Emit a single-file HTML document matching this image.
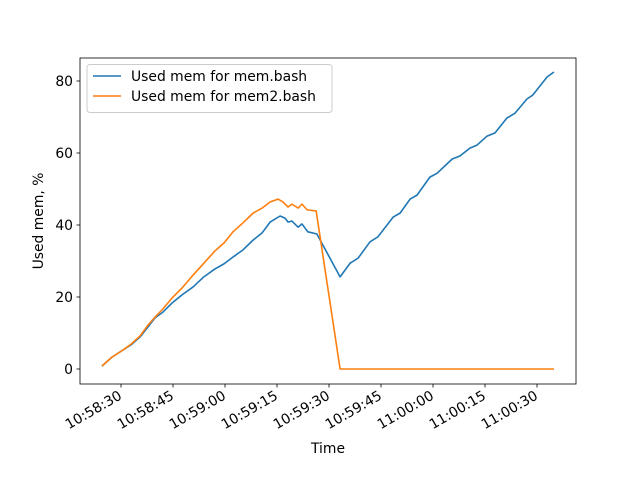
<!DOCTYPE html>
<html><head><meta charset="utf-8"><style>body{margin:0;background:#fff}svg{font-family:"DejaVu Sans","Liberation Sans",sans-serif}</style></head>
<body>
<svg id="c" width="640" height="480"></svg>
<script>
// seconds since 10:58:30
const blueT=[-5.5,-2.6,0.6,2.9,5.5,7.8,9.8,12.1,14.7,17.6,20.8,23.9,27.1,29.7,32.3,35.2,38.1,40.7,43.0,45.9,47.3,48.2,49.3,51.1,52.2,53.9,56.5,63.2,66.1,68.4,71.8,74.1,78.5,80.5,83.4,85.4,89.1,91.2,95.5,97.8,100.7,102.7,105.6,107.9,111.3,113.7,117.1,118.8,122.9,124.9];
const blueV=[0.8,3.3,5.3,6.7,8.9,11.7,14.2,15.8,18.3,20.6,22.8,25.6,27.8,29.2,31.1,33.1,35.8,37.8,40.8,42.5,41.9,40.8,41.1,39.4,40.3,38.1,37.5,25.6,29.4,30.8,35.3,36.7,42.2,43.3,47.2,48.3,53.3,54.4,58.3,59.2,61.4,62.2,64.7,65.6,69.7,71.1,75.0,76.1,81.1,82.5];
const orangeT=[-5.5,-2.6,0.6,2.9,5.5,7.8,9.8,12.1,14.7,17.6,20.8,23.9,27.1,29.7,32.3,35.2,38.1,40.7,43.0,45.3,46.7,48.2,49.3,51.1,52.2,53.7,56.3,63.2,124.9];
const orangeV=[0.8,3.3,5.3,6.9,9.2,12.2,14.4,16.7,19.7,22.5,26.1,29.4,32.8,35.0,38.1,40.6,43.3,44.7,46.4,47.2,46.4,45.0,45.8,44.7,45.8,44.2,43.9,0,0];
const xTicks=[0,15,30,45,60,75,90,105,120];
const xLabels=["10:58:30","10:58:45","10:59:00","10:59:15","10:59:30","10:59:45","11:00:00","11:00:15","11:00:30"];
const yTicks=[0,20,40,60,80];
const X=t=>121+t*52/15, Y=v=>369-3.6*v;
const svg=document.getElementById('c');const NS='http://www.w3.org/2000/svg';
function mk(tag,attrs,parent){const e=document.createElementNS(NS,tag);for(const k in attrs)e.setAttribute(k,attrs[k]);(parent||svg).appendChild(e);return e;}
const frame=mk('rect',{x:80,y:58,width:496,height:326,fill:'none',stroke:'#000','stroke-width':0.8});


xTicks.forEach((t,i)=>{
 const l=mk('line',{x1:X(t),x2:X(t),y1:384,y2:387.5,stroke:'#000','stroke-width':0.8});
 
 
 const ax=X(t)-3, ay=390;
 const tx=mk('text',{x:ax,y:ay,'font-size':13.9,'text-anchor':'end',transform:`rotate(-30 ${ax} ${ay})`,'dominant-baseline':'hanging'});
 tx.textContent=xLabels[i];
 
 
});
yTicks.forEach(v=>{
 const l=mk('line',{x1:76.5,x2:80,y1:Y(v),y2:Y(v),stroke:'#000','stroke-width':0.8});
 
 
 const tx=mk('text',{x:73,y:Y(v)+5,'font-size':13.9,'text-anchor':'end'});
 tx.textContent=v;
 
 
});
const xt=mk('text',{x:328,y:453,'font-size':13.9,'text-anchor':'middle'});xt.textContent='Time';


const yt=mk('text',{x:43,y:221,'font-size':13.9,'text-anchor':'middle',transform:'rotate(-90 43 221)'});yt.textContent='Used mem, %';


function line(T,V,c,name){const p=mk('polyline',{points:T.map((t,i)=>X(t)+','+Y(V[i])).join(' '),fill:'none',stroke:c,'stroke-width':1.6,'stroke-linejoin':'round'});
 
 }
line(blueT,blueV,'#1f77b4','series-mem-bash');
line(orangeT,orangeV,'#ff7f0e','series-mem2-bash');
const lg=mk('g',{});


mk('rect',{x:87,y:64.5,width:245,height:48,rx:3,fill:'#fff','fill-opacity':0.8,stroke:'#ccc'},lg);
[['Used mem for mem.bash','#1f77b4'],['Used mem for mem2.bash','#ff7f0e']].forEach((d,i)=>{
 const g=mk('g',{},lg);
 
 
 const y=76+i*20;
 mk('line',{x1:93,x2:121,y1:y,y2:y,stroke:d[1],'stroke-width':1.6},g);
 const t=mk('text',{x:131,y:y+5,'font-size':13.9},g);t.textContent=d[0];
});
</script>
</body></html>
